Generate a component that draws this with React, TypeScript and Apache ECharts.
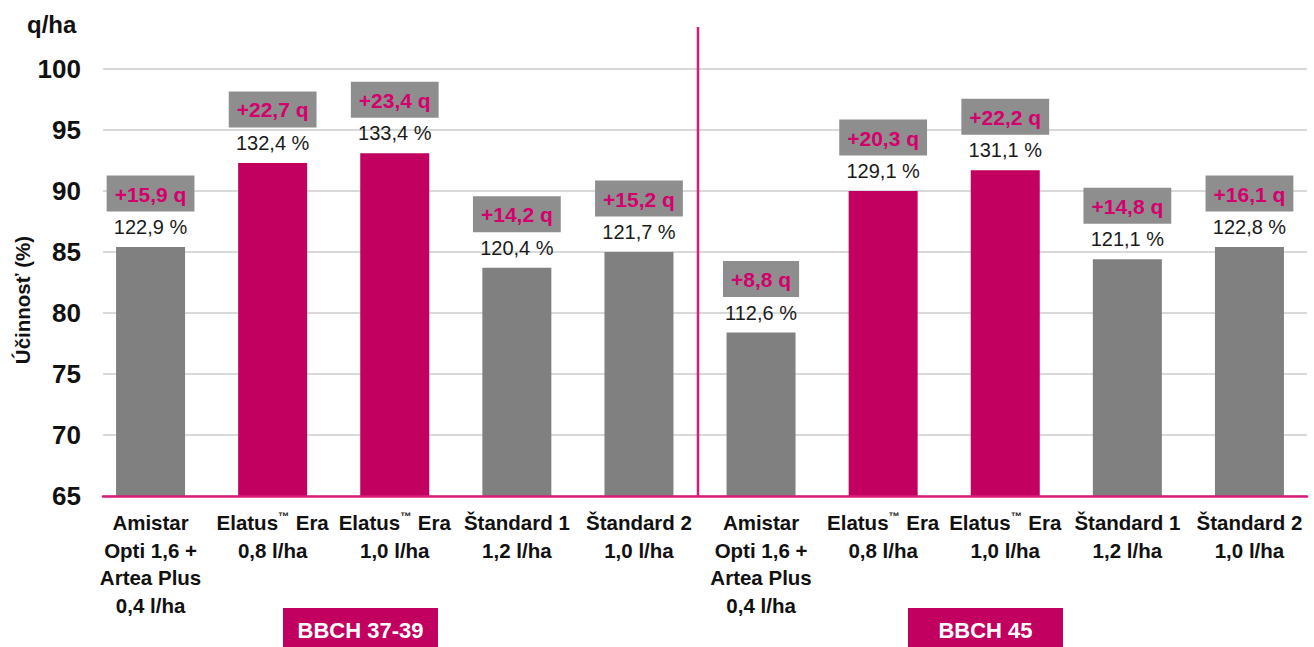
import React, { useEffect, useRef } from 'react';
import * as echarts from 'echarts';

const categories = [
  'Amistar\nOpti 1,6 +\nArtea Plus\n0,4 l/ha',
  'Elatus™ Era\n0,8 l/ha',
  'Elatus™ Era\n1,0 l/ha',
  'Štandard 1\n1,2 l/ha',
  'Štandard 2\n1,0 l/ha',
  'Amistar\nOpti 1,6 +\nArtea Plus\n0,4 l/ha',
  'Elatus™ Era\n0,8 l/ha',
  'Elatus™ Era\n1,0 l/ha',
  'Štandard 1\n1,2 l/ha',
  'Štandard 2\n1,0 l/ha',
];
const values = [85.4, 92.3, 93.1, 83.7, 85.0, 78.4, 90.0, 91.7, 84.4, 85.4];
const percents = ['122,9 %', '132,4 %', '133,4 %', '120,4 %', '121,7 %', '112,6 %', '129,1 %', '131,1 %', '121,1 %', '122,8 %'];
const gains = ['+15,9 q', '+22,7 q', '+23,4 q', '+14,2 q', '+15,2 q', '+8,8 q', '+20,3 q', '+22,2 q', '+14,8 q', '+16,1 q'];
const highlight = [false, true, true, false, false, false, true, true, false, false];
const yTicks = { min: 65, max: 100, interval: 5 };
const groups = ['BBCH 37-39', 'BBCH 45'];

const FONT = '"Liberation Sans", Arial, Helvetica, sans-serif';
const MAGENTA = '#c2005f';
const PINK_LINE = '#d81b78';
const GRAY = '#808080';
const BOX_GRAY = '#8e8e8e';
const PINK_TEXT = '#d4006d';

export default function App() {
  const ref = useRef<HTMLDivElement>(null);
  useEffect(() => {
    const chart = echarts.init(ref.current!, null, { renderer: 'svg' });
    const top = 69;
    const height = 427;
    chart.setOption({
      animation: false,
      textStyle: { fontFamily: FONT },
      grid: [
        { left: 103, top, width: 1204, height },
        { left: 89.5, top, width: 1221, height },
      ],
      xAxis: [
        {
          gridIndex: 0,
          type: 'value',
          min: 0,
          max: 1,
          z: 10,
          axisLine: { show: true, lineStyle: { color: PINK_LINE, width: 2.5 } },
          axisTick: { show: false },
          axisLabel: { show: false },
          splitLine: { show: false },
        },
        {
          gridIndex: 1,
          type: 'category',
          data: categories,
          axisLine: { show: false },
          axisTick: { show: false },
          axisLabel: {
            interval: 0,
            margin: 13,
            fontSize: 20.5,
            fontWeight: 'bold',
            color: '#111',
            lineHeight: 27.5,
            fontFamily: FONT,
            formatter: (v: string) => v.replace('™', '{tm|™}'),
            rich: {
              tm: {
                fontSize: 11,
                fontWeight: 'bold',
                color: '#111',
                fontFamily: FONT,
                lineHeight: 14,
                padding: [0, 1, 13, 0],
              },
            },
          },
        },
      ],
      yAxis: [
        {
          gridIndex: 0,
          type: 'value',
          min: yTicks.min,
          max: yTicks.max,
          interval: yTicks.interval,
          axisLine: { show: false },
          axisTick: { show: false },
          axisLabel: { margin: 22, fontSize: 26, fontWeight: 'bold', color: '#111', fontFamily: FONT },
          splitLine: { show: true, lineStyle: { color: '#d9d9d9', width: 2 } },
        },
        {
          gridIndex: 1,
          type: 'value',
          min: yTicks.min,
          max: yTicks.max,
          interval: yTicks.interval,
          show: false,
          splitLine: { show: false },
        },
      ],
      series: [
        {
          type: 'bar',
          xAxisIndex: 1,
          yAxisIndex: 1,
          barWidth: 69,
          data: values.map((v, i) => ({ value: v, itemStyle: { color: highlight[i] ? MAGENTA : GRAY } })),
          label: {
            show: true,
            position: 'top',
            distance: 10,
            fontSize: 20,
            color: '#1a1a1a',
            fontFamily: FONT,
            formatter: (p: any) => percents[p.dataIndex],
          },
        },
        {
          type: 'bar',
          xAxisIndex: 1,
          yAxisIndex: 1,
          barWidth: 69,
          barGap: '-100%',
          silent: true,
          itemStyle: { color: 'rgba(0,0,0,0)' },
          data: values,
          label: {
            show: true,
            position: 'top',
            distance: 43,
            formatter: (p: any) => '{q|' + gains[p.dataIndex] + '}',
            rich: {
              q: {
                fontSize: 21,
                fontWeight: 'bold',
                color: PINK_TEXT,
                fontFamily: FONT,
                backgroundColor: BOX_GRAY,
                padding: [8, 8, 7, 8],
                lineHeight: 21,
              },
            },
          },
        },
      ],
      graphic: [
        {
          type: 'text',
          left: 27,
          top: 12,
          style: { text: 'q/ha', fontSize: 24, fontWeight: 'bold', fill: '#111', fontFamily: FONT },
        },
        {
          type: 'text',
          x: 22,
          y: 300,
          rotation: Math.PI / 2,
          style: {
            text: 'Účinnosť (%)',
            fontSize: 20.5,
            fontWeight: 'bold',
            fill: '#111',
            fontFamily: FONT,
            align: 'center',
            verticalAlign: 'middle',
          },
        },
        {
          type: 'line',
          z: 20,
          shape: { x1: 698, y1: 27, x2: 698, y2: 496 },
          style: { stroke: PINK_LINE, lineWidth: 2.5 },
        },
        {
          type: 'rect',
          shape: { x: 283, y: 608, width: 155, height: 45 },
          style: { fill: MAGENTA },
        },
        {
          type: 'text',
          x: 360.5,
          y: 630,
          style: {
            text: groups[0],
            fontSize: 22,
            fontWeight: 'bold',
            fill: '#fff',
            fontFamily: FONT,
            align: 'center',
            verticalAlign: 'middle',
          },
        },
        {
          type: 'rect',
          shape: { x: 908, y: 608, width: 155, height: 45 },
          style: { fill: MAGENTA },
        },
        {
          type: 'text',
          x: 985.5,
          y: 630,
          style: {
            text: groups[1],
            fontSize: 22,
            fontWeight: 'bold',
            fill: '#fff',
            fontFamily: FONT,
            align: 'center',
            verticalAlign: 'middle',
          },
        },
      ],
    });
    return () => chart.dispose();
  }, []);
  return <div ref={ref} style={{ position: 'absolute', left: 0, top: 0, width: 1314, height: 647 }} />;
}
